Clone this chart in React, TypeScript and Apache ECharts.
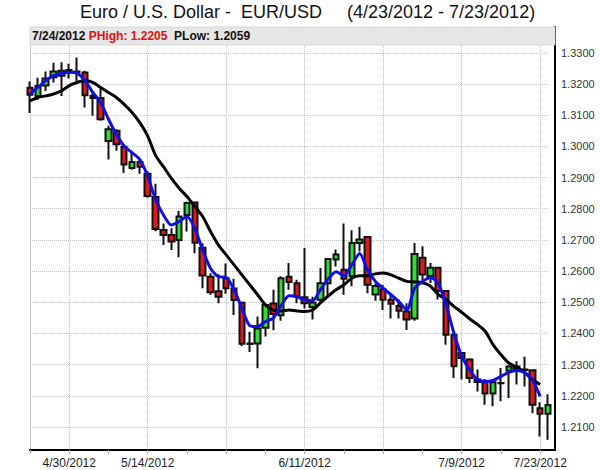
import React, { useEffect, useRef } from 'react';
import * as echarts from 'echarts';

const dates = [
  '4/23/2012', '4/24/2012', '4/25/2012', '4/26/2012', '4/27/2012',
  '4/30/2012', '5/1/2012', '5/2/2012', '5/3/2012', '5/4/2012',
  '5/7/2012', '5/8/2012', '5/9/2012', '5/10/2012', '5/11/2012',
  '5/14/2012', '5/15/2012', '5/16/2012', '5/17/2012', '5/18/2012',
  '5/21/2012', '5/22/2012', '5/23/2012', '5/24/2012', '5/25/2012',
  '5/28/2012', '5/29/2012', '5/30/2012', '5/31/2012', '6/1/2012',
  '6/4/2012', '6/5/2012', '6/6/2012', '6/7/2012', '6/8/2012',
  '6/11/2012', '6/12/2012', '6/13/2012', '6/14/2012', '6/15/2012',
  '6/18/2012', '6/19/2012', '6/20/2012', '6/21/2012', '6/22/2012',
  '6/25/2012', '6/26/2012', '6/27/2012', '6/28/2012', '6/29/2012',
  '7/2/2012', '7/3/2012', '7/4/2012', '7/5/2012', '7/6/2012',
  '7/9/2012', '7/10/2012', '7/11/2012', '7/12/2012', '7/13/2012',
  '7/16/2012', '7/17/2012', '7/18/2012', '7/19/2012', '7/20/2012',
  '7/23/2012', '7/24/2012',
];

const opens = [
  1.3188, 1.3162, 1.3195, 1.3222, 1.3227,
  1.3245, 1.3240, 1.3237, 1.3162, 1.3155,
  1.3017, 1.3050, 1.2999, 1.2931, 1.2950,
  1.2912, 1.2838, 1.2732, 1.2716, 1.2700,
  1.2780, 1.2820, 1.2675, 1.2582, 1.2535,
  1.2577, 1.2544, 1.2498, 1.2368, 1.2368,
  1.2418, 1.2496, 1.2458, 1.2582, 1.2561,
  1.2516, 1.2485, 1.2508, 1.2561, 1.2637,
  1.2604, 1.2583, 1.2690, 1.2709, 1.2525,
  1.2542, 1.2508, 1.2488, 1.2470, 1.2448,
  1.2643, 1.2584, 1.2611, 1.2536, 1.2396,
  1.2337, 1.2316, 1.2252, 1.2243, 1.2207,
  1.2241, 1.2280, 1.2294, 1.2284, 1.2282,
  1.2160, 1.2142,
];

const closes = [
  1.3166, 1.3194, 1.3218, 1.3240, 1.3243,
  1.3242, 1.3237, 1.3164, 1.3155, 1.3087,
  1.3055, 1.3007, 1.2942, 1.2950, 1.2935,
  1.2841, 1.2735, 1.2716, 1.2695, 1.2775,
  1.2818, 1.2691, 1.2586, 1.2532, 1.2518,
  1.2545, 1.2507, 1.2367, 1.2366, 1.2416,
  1.2491, 1.2462, 1.2577, 1.2565, 1.2518,
  1.2497, 1.2499, 1.2561, 1.2639, 1.2653,
  1.2575, 1.2690, 1.2701, 1.2556, 1.2552,
  1.2508, 1.2495, 1.2473, 1.2445, 1.2655,
  1.2589, 1.2611, 1.2536, 1.2396, 1.2295,
  1.2321, 1.2257, 1.2244, 1.2207, 1.2243,
  1.2240, 1.2294, 1.2286, 1.2283, 1.2171,
  1.2142, 1.2170,
];

const lows = [
  1.3107, 1.3150, 1.3178, 1.3205, 1.3162,
  1.3218, 1.3210, 1.3125, 1.3098, 1.3082,
  1.2958, 1.2986, 1.2915, 1.2925, 1.2912,
  1.2835, 1.2728, 1.2684, 1.2668, 1.2644,
  1.2727, 1.2657, 1.2545, 1.2524, 1.2497,
  1.2527, 1.2459, 1.2360, 1.2340, 1.2288,
  1.2390, 1.2410, 1.2441, 1.2540, 1.2497,
  1.2480, 1.2445, 1.2497, 1.2520, 1.2615,
  1.2524, 1.2551, 1.2663, 1.2529, 1.2505,
  1.2475, 1.2448, 1.2448, 1.2411, 1.2441,
  1.2557, 1.2562, 1.2509, 1.2364, 1.2257,
  1.2252, 1.2241, 1.2214, 1.2171, 1.2166,
  1.2182, 1.2193, 1.2236, 1.2230, 1.2144,
  1.2069, 1.2059,
];

const highs = [
  1.3208, 1.3220, 1.3240, 1.3268, 1.3270,
  1.3265, 1.3285, 1.3243, 1.3170, 1.3184,
  1.3066, 1.3055, 1.3002, 1.2980, 1.2958,
  1.2920, 1.2880, 1.2753, 1.2737, 1.2793,
  1.2823, 1.2823, 1.2689, 1.2593, 1.2590,
  1.2624, 1.2575, 1.2502, 1.2405, 1.2454,
  1.2497, 1.2540, 1.2583, 1.2626, 1.2572,
  1.2674, 1.2518, 1.2610, 1.2642, 1.2669,
  1.2753, 1.2731, 1.2742, 1.2709, 1.2560,
  1.2556, 1.2524, 1.2508, 1.2497, 1.2690,
  1.2680, 1.2627, 1.2614, 1.2538, 1.2400,
  1.2340, 1.2320, 1.2284, 1.2254, 1.2254,
  1.2289, 1.2298, 1.2311, 1.2325, 1.2284,
  1.2179, 1.2205,
];

// blue (short) moving average line
const maShort = [
  1.3168, 1.3189, 1.3211, 1.3227, 1.3234,
  1.3238, 1.3235, 1.3211, 1.3173, 1.3141,
  1.3087, 1.3039, 1.3001, 1.2980, 1.2958,
  1.2904, 1.2830, 1.2780, 1.2748, 1.2759,
  1.2775, 1.2737, 1.2668, 1.2609, 1.2582,
  1.2580, 1.2540, 1.2481, 1.2425, 1.2422,
  1.2438, 1.2449, 1.2490, 1.2521, 1.2518,
  1.2507, 1.2505, 1.2540, 1.2575, 1.2598,
  1.2585, 1.2620, 1.2656, 1.2604, 1.2567,
  1.2545, 1.2524, 1.2502, 1.2475, 1.2545,
  1.2566, 1.2579, 1.2562, 1.2493, 1.2402,
  1.2327, 1.2284, 1.2252, 1.2246, 1.2249,
  1.2262, 1.2275, 1.2281, 1.2275, 1.2252,
  1.2198, null,
];

// black (long) moving average line
const maLong = [
  1.3146, 1.3157, 1.3162, 1.3168, 1.3178,
  1.3195, 1.3205, 1.3211, 1.3205, 1.3189,
  1.3173, 1.3157, 1.3135, 1.3109, 1.3076,
  1.3033, 1.2971, 1.2935, 1.2898, 1.2866,
  1.2839, 1.2807, 1.2775, 1.2727, 1.2684,
  1.2652, 1.2620, 1.2588, 1.2556, 1.2524,
  1.2491, 1.2475, 1.2472, 1.2475, 1.2472,
  1.2470, 1.2475, 1.2498, 1.2520, 1.2540,
  1.2556, 1.2577, 1.2585, 1.2585, 1.2591,
  1.2594, 1.2588, 1.2577, 1.2567, 1.2565,
  1.2563, 1.2552, 1.2525, 1.2509, 1.2487,
  1.2468, 1.2447, 1.2429, 1.2407, 1.2364,
  1.2332, 1.2305, 1.2292, 1.2275, 1.2252,
  1.2236, null,
];

const yTicks = [1.21, 1.22, 1.23, 1.24, 1.25, 1.26, 1.27, 1.28, 1.29, 1.3, 1.31, 1.32, 1.33];
const labelDates = ['4/30/2012', '5/14/2012', '6/11/2012', '7/9/2012', '7/23/2012'];
const gridDates = ['4/30/2012', '5/14/2012', '5/28/2012', '6/11/2012', '6/25/2012', '7/9/2012', '7/23/2012'];
const Y_MIN = 1.2026;
const Y_MAX = 1.3383;

const titleMain = 'Euro / U.S. Dollar -  EUR/USD';
const titleRange = '(4/23/2012 - 7/23/2012)';
const headerDate = '7/24/2012';
const headerHigh = '1.2205';
const headerLow = '1.2059';

const FONT = '"Liberation Sans", Arial, sans-serif';

export default function App() {
  const ref = useRef<HTMLDivElement>(null);

  useEffect(() => {
    if (!ref.current) return;
    const chart = echarts.init(ref.current, undefined, { renderer: 'svg' });
    const ohlc = dates.map((_, i) => [opens[i], closes[i], lows[i], highs[i]]);

    chart.setOption({
      animation: false,
      backgroundColor: '#ffffff',
      textStyle: { fontFamily: FONT },
      title: [
        {
          text: titleMain,
          left: 80,
          top: 3,
          padding: 0,
          textStyle: { fontSize: 18, fontWeight: 'normal', color: '#111', fontFamily: FONT },
        },
        {
          text: titleRange,
          left: 347,
          top: 3,
          padding: 0,
          textStyle: { fontSize: 18, fontWeight: 'normal', color: '#111', fontFamily: FONT },
        },
      ],
      grid: { left: 30, right: 52, top: 27, bottom: 20 },
      xAxis: {
        type: 'category',
        data: dates,
        boundaryGap: false,
        axisLine: { show: true, lineStyle: { color: '#000', width: 2 } },
        axisTick: {
          show: true,
          alignWithLabel: true,
          interval: (i: number) => i % 5 === 0,
          length: 4,
          lineStyle: { color: '#aaa' },
        },
        axisLabel: {
          interval: (_i: number, v: string) => labelDates.includes(v),
          color: '#222',
          fontSize: 12,
          margin: 7,
          fontFamily: FONT,
        },
        splitLine: {
          show: true,
          interval: (_i: number, v: string) => gridDates.includes(v),
          lineStyle: { type: 'dotted', color: '#c4c4c4', width: 1 },
        },
      },
      yAxis: [
        {
          type: 'value',
          position: 'right',
          offset: 7,
          min: Y_MIN,
          max: Y_MAX,
          axisLine: { show: true, lineStyle: { color: '#000', width: 2 } },
          axisTick: { show: false, customValues: yTicks },
          axisLabel: {
            customValues: yTicks,
            formatter: (v: number) => v.toFixed(4),
            color: '#333',
            fontSize: 11,
            margin: 6,
            fontFamily: FONT,
          },
          splitLine: { show: true, lineStyle: { type: 'dotted', color: '#c4c4c4', width: 1 } },
        },
        {
          type: 'value',
          position: 'left',
          min: Y_MIN,
          max: Y_MAX,
          axisLine: { show: true, lineStyle: { color: '#c8c8c8', width: 1 } },
          axisTick: { show: false },
          axisLabel: { show: false },
          splitLine: { show: false },
        },
      ],
      series: [
        {
          name: 'EUR/USD',
          type: 'candlestick',
          data: ohlc,
          barWidth: 6,
          itemStyle: {
            color: '#2ee02e',
            color0: '#de1a1a',
            borderColor: '#111',
            borderColor0: '#111',
            borderWidth: 2,
          },
        },
        {
          name: 'MA long',
          type: 'line',
          data: maLong,
          symbol: 'none',
          smooth: 0.25,
          lineStyle: { color: '#050505', width: 3 },
          z: 3,
        },
        {
          name: 'MA short',
          type: 'line',
          data: maShort,
          symbol: 'none',
          smooth: 0.25,
          lineStyle: { color: '#1010e6', width: 3 },
          z: 4,
        },
      ],
      graphic: [
        {
          type: 'rect',
          shape: { x: 30, y: 27, width: 525, height: 18 },
          style: { fill: '#e6e6e6', stroke: '#d6d6d6', lineWidth: 1 },
          z: 10,
        },
        {
          type: 'text',
          x: 32,
          y: 36,
          z: 11,
          style: {
            text: `{d|${headerDate}} {r|PHigh:} {r|${headerHigh}}  {d|PLow:} {d|${headerLow}}`,
            verticalAlign: 'middle',
            rich: {
              d: { fontSize: 12, fontWeight: 'bold', fill: '#111', fontFamily: FONT },
              r: { fontSize: 12, fontWeight: 'bold', fill: '#e01010', fontFamily: FONT },
            },
          },
        },
        {
          type: 'line',
          shape: { x1: 547, y1: 450, x2: 556, y2: 450 },
          style: { stroke: '#000', lineWidth: 2 },
          z: 10,
        },
      ],
    });

    return () => chart.dispose();
  }, []);

  return (
    <div
      ref={ref}
      style={{ position: 'absolute', left: 0, top: 0, width: 600, height: 470 }}
    />
  );
}
